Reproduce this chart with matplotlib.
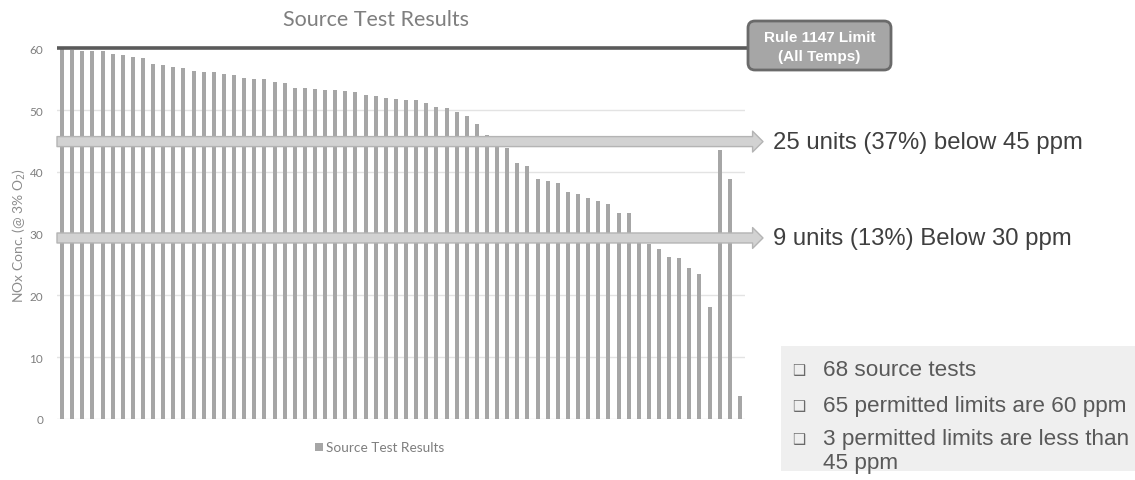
import matplotlib
matplotlib.use("Agg")
import matplotlib.pyplot as plt
import matplotlib.transforms as mtransforms
from matplotlib.patches import FancyBboxPatch, Rectangle
import numpy as np

# ---------------- data ----------------
nox_values = [60.0, 59.7, 59.6, 59.5, 59.5, 59.0, 58.9, 58.6, 58.5, 57.4,
              57.3, 57.0, 56.8, 56.3, 56.2, 56.1, 55.8, 55.6, 55.2, 55.1,
              55.1, 54.6, 54.4, 53.6, 53.5, 53.4, 53.3, 53.2, 53.1, 52.9,
              52.4, 52.3, 51.9, 51.8, 51.7, 51.6, 51.1, 50.5, 50.4, 49.7,
              49.1, 47.8, 45.9, 44.9, 43.9, 41.5, 40.9, 38.8, 38.5, 38.2,
              36.8, 36.4, 35.7, 35.3, 34.8, 33.4, 33.4, 29.5, 28.3, 27.5,
              26.3, 26.0, 24.4, 23.4, 18.1, 43.5, 38.8, 3.8]
y_ticks = [0, 10, 20, 30, 40, 50, 60]
rule_limit = 60
arrow_levels = [44.9, 29.3]
arrow_texts = ["25 units (37%) below 45 ppm", "9 units (13%) Below 30 ppm"]
title = "Source Test Results"
ylabel = "NOx Conc. (@ 3% O$_2$)"
legend_label = "Source Test Results"
rule_label = "Rule 1147 Limit\n(All Temps)"
bullets = ["68 source tests", "65 permitted limits are 60 ppm",
           "3 permitted limits are less than\n45 ppm"]

# ---------------- figure ----------------
W, H = 1135, 481
DPI = 100
fig = plt.figure(figsize=(W / DPI, H / DPI), dpi=DPI)

def fx(px):
    return px / W

def fy(py):
    return 1 - py / H

ax_l, ax_r, ax_b, ax_t = 57, 745, 420, 49.3
ax = fig.add_axes([fx(ax_l), fy(ax_b), fx(ax_r - ax_l), (ax_b - ax_t) / H])

x = np.arange(len(nox_values))
ax.bar(x, nox_values, width=0.4, color="#a6a6a6", zorder=2)
ax.set_xlim(-0.5, len(nox_values) - 0.5)
ax.set_ylim(0, 60)
ax.set_yticks(y_ticks)
ax.set_yticklabels([str(t) for t in y_ticks], fontsize=8.5, color="#7f7f7f",
                   fontfamily="Lato")
ax.tick_params(axis="y", length=0, pad=10)
ax.set_xticks([])
for s in ax.spines.values():
    s.set_visible(False)
for t in y_ticks[:-1]:
    ax.axhline(t, color="#e3e3e3", lw=1, zorder=1)

# Rule limit line (extends to the label box)
blend = mtransforms.blended_transform_factory(ax.transAxes, ax.transData)
ax.plot([0, (750 - ax_l) / (ax_r - ax_l)], [rule_limit, rule_limit],
        transform=blend, color="#5a5a5a", lw=2.6, clip_on=False, zorder=4,
        solid_capstyle="butt")

# Arrows
tip = (763 - ax_l) / (ax_r - ax_l)
for lvl, txt in zip(arrow_levels, arrow_texts):
    ax.annotate("", xy=(tip, lvl), xytext=(0, lvl), xycoords=blend,
                textcoords=blend, annotation_clip=False,
                arrowprops=dict(arrowstyle="simple,tail_width=0.72,head_width=1.5,head_length=0.75",
                                mutation_scale=10, fc="#d2d2d2", ec="#b4b4b4",
                                lw=1, shrinkA=0, shrinkB=0),
                zorder=5)
    ax.text((773 - ax_l) / (ax_r - ax_l), lvl, txt, transform=blend,
            fontsize=17.2, color="#3f3f3f", family="Liberation Sans",
            va="center", ha="left", clip_on=False)

# Title, y label, legend
fig.text(fx(376), fy(20), title, fontsize=15.5, color="#7f7f7f",
         ha="center", va="center", family="Lato")
fig.text(fx(19), fy(235), ylabel, fontsize=10, color="#8c8c8c",
         rotation=90, ha="center", va="center", family="Lato")
fig.patches.append(Rectangle((fx(315), fy(452)), fx(8), 8 / H,
                             transform=fig.transFigure, fc="#a6a6a6", ec="none"))
fig.text(fx(326), fy(448), legend_label, fontsize=9.8, color="#7f7f7f",
         ha="left", va="center", family="Lato")

# Rule 1147 label box (in inches)
bx0, bx1, by0, by1 = 748, 891, 22, 71
fig.patches.append(FancyBboxPatch((bx0 / DPI, (H - by1) / DPI), (bx1 - bx0) / DPI,
                                  (by1 - by0) / DPI,
                                  boxstyle="round,pad=0,rounding_size=0.07",
                                  transform=fig.dpi_scale_trans, fc="#a6a6a6",
                                  ec="#6a6a6a", lw=2, zorder=6))
fig.text(fx((bx0 + bx1) / 2), fy((by0 + by1) / 2 + 1), rule_label, fontsize=11,
         color="white", fontweight="bold", ha="center", va="center",
         family="Liberation Sans", linespacing=1.45, zorder=7)

# Bullet panel
fig.patches.append(Rectangle((fx(781), fy(472)), fx(1135 - 781), (472 - 347) / H,
                             transform=fig.transFigure, fc="#efefef", ec="none"))
bullet_base = [376, 412, 445]
line_px = 24
for by, txt in zip(bullet_base, bullets):
    fig.text(fx(792), fy(by - 1), "\u2751", fontsize=10.5, color="#6a6a6a",
             ha="left", va="baseline", family="DejaVu Sans")
    n_extra = txt.count("\n")
    fig.text(fx(823), fy(by + n_extra * line_px), txt, fontsize=16.2,
             color="#595959", ha="left", va="baseline",
             family="Liberation Sans", linespacing=1.18)

fig.savefig("out.png", dpi=DPI)
